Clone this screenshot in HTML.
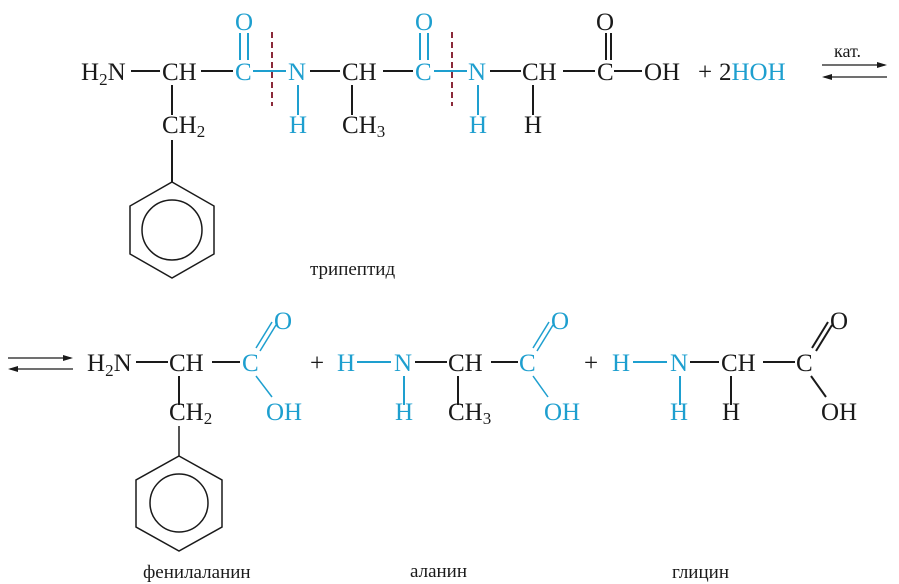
<!DOCTYPE html>
<html><head><meta charset="utf-8"><style>
html,body{margin:0;padding:0;background:#fff;}
svg{display:block;}
text{font-family:"Liberation Serif",serif;font-size:25px;fill:#1a1a1a;}
.b{fill:#1e9fcf;}
.s{font-size:17px;}
.l{font-size:19px;}
</style></head><body>
<svg width="899" height="584" viewBox="0 0 899 584" xmlns="http://www.w3.org/2000/svg">
<g stroke="#1a1a1a" stroke-width="2" fill="none">
<line x1="131" y1="71" x2="160" y2="71"/>
<line x1="201" y1="71" x2="233" y2="71"/>
<line x1="310" y1="71" x2="340" y2="71"/>
<line x1="383" y1="71" x2="413" y2="71"/>
<line x1="490" y1="71" x2="521" y2="71"/>
<line x1="563" y1="71" x2="595" y2="71"/>
<line x1="614" y1="71" x2="642" y2="71"/>
<line x1="172" y1="85" x2="172" y2="115"/>
<line x1="352" y1="85" x2="352" y2="115"/>
<line x1="533" y1="85" x2="533" y2="115"/>
<line x1="606" y1="33" x2="606" y2="60"/>
<line x1="611" y1="33" x2="611" y2="60"/>
<line x1="172" y1="140" x2="172" y2="182"/>
<polygon points="172,182 214,206 214,254 172,278 130,254 130,206" stroke-width="1.5"/>
<circle cx="172" cy="230" r="30" stroke-width="1.5"/>
<line x1="822" y1="65" x2="885" y2="65" stroke-width="1.3"/>
<line x1="824" y1="77" x2="887" y2="77" stroke-width="1.3"/>
<line x1="8" y1="358" x2="71" y2="358" stroke-width="1.3"/>
<line x1="10" y1="369" x2="73" y2="369" stroke-width="1.3"/>
<line x1="136" y1="362" x2="168" y2="362"/>
<line x1="212" y1="362" x2="240" y2="362"/>
<line x1="179" y1="376" x2="179" y2="405"/>
<line x1="179" y1="426" x2="179" y2="456" stroke-width="1.5"/>
<polygon points="179,456 222,480 222,527 179,551 136,527 136,480" stroke-width="1.5"/>
<circle cx="179" cy="503" r="29" stroke-width="1.5"/>
<line x1="415" y1="362" x2="447" y2="362"/>
<line x1="491" y1="362" x2="518" y2="362"/>
<line x1="458" y1="376" x2="458" y2="405"/>
<line x1="690" y1="362" x2="719" y2="362"/>
<line x1="763" y1="362" x2="795" y2="362"/>
<line x1="731" y1="376" x2="731" y2="405"/>
<line x1="812" y1="348" x2="828" y2="322"/>
<line x1="816" y1="351" x2="832" y2="325"/>
<line x1="811" y1="376" x2="826" y2="397"/>
</g>
<g fill="#1a1a1a">
<polygon points="887,65 877,62 877,68"/>
<polygon points="822,77 832,74 832,80"/>
<polygon points="73,358 63,355 63,361"/>
<polygon points="8,369 18,366 18,372"/>
</g>
<g stroke="#1e9fcf" stroke-width="2" fill="none">
<line x1="253" y1="71" x2="286" y2="71"/>
<line x1="434" y1="71" x2="467" y2="71"/>
<line x1="298" y1="85" x2="298" y2="115"/>
<line x1="478" y1="85" x2="478" y2="115"/>
<line x1="240" y1="33" x2="240" y2="60"/>
<line x1="248" y1="33" x2="248" y2="60"/>
<line x1="420" y1="33" x2="420" y2="60"/>
<line x1="428" y1="33" x2="428" y2="60"/>
<line x1="256" y1="348" x2="272" y2="322" stroke-width="1.5"/>
<line x1="260" y1="351" x2="276" y2="325" stroke-width="1.5"/>
<line x1="256" y1="376" x2="272" y2="397" stroke-width="1.5"/>
<line x1="533" y1="348" x2="549" y2="322" stroke-width="1.5"/>
<line x1="537" y1="351" x2="553" y2="325" stroke-width="1.5"/>
<line x1="533" y1="376" x2="548" y2="397" stroke-width="1.5"/>
<line x1="357" y1="362" x2="391" y2="362"/>
<line x1="633" y1="362" x2="667" y2="362"/>
<line x1="404" y1="376" x2="404" y2="405"/>
<line x1="680" y1="376" x2="680" y2="405"/>
</g>
<g stroke="#8b2a3a" stroke-width="2" stroke-dasharray="6,4">
<line x1="272" y1="32" x2="272" y2="106"/>
<line x1="452" y1="32" x2="452" y2="106"/>
</g>
<text x="81" y="80">H<tspan class="s" dy="5">2</tspan><tspan dy="-5">N</tspan></text>
<text x="162" y="80">CH</text>
<text x="235" y="80" class="b">C</text>
<text x="288" y="80" class="b">N</text>
<text x="342" y="80">CH</text>
<text x="415" y="80" class="b">C</text>
<text x="468" y="80" class="b">N</text>
<text x="522" y="80">CH</text>
<text x="597" y="80">C</text>
<text x="644" y="80">OH</text>
<text x="698" y="80">+</text>
<text x="719" y="80">2<tspan class="b">HOH</tspan></text>
<text x="235" y="30" class="b">O</text>
<text x="415" y="30" class="b">O</text>
<text x="596" y="30">O</text>
<text x="162" y="133">CH<tspan class="s" dy="4">2</tspan></text>
<text x="289" y="133" class="b">H</text>
<text x="342" y="133">CH<tspan class="s" dy="4">3</tspan></text>
<text x="469" y="133" class="b">H</text>
<text x="524" y="133">H</text>
<text x="834" y="57" style="font-size:18px">кат.</text>
<text x="310" y="275" class="l">трипептид</text>
<text x="87" y="371">H<tspan class="s" dy="5">2</tspan><tspan dy="-5">N</tspan></text>
<text x="169" y="371">CH</text>
<text x="242" y="371" class="b">C</text>
<text x="274" y="329" class="b">O</text>
<text x="266" y="420" class="b">OH</text>
<text x="169" y="420">CH<tspan class="s" dy="4">2</tspan></text>
<text x="310" y="371">+</text>
<text x="337" y="371" class="b">H</text>
<text x="394" y="371" class="b">N</text>
<text x="448" y="371">CH</text>
<text x="519" y="371" class="b">C</text>
<text x="551" y="329" class="b">O</text>
<text x="544" y="420" class="b">OH</text>
<text x="395" y="420" class="b">H</text>
<text x="448" y="420">CH<tspan class="s" dy="4">3</tspan></text>
<text x="584" y="371">+</text>
<text x="612" y="371" class="b">H</text>
<text x="670" y="371" class="b">N</text>
<text x="721" y="371">CH</text>
<text x="796" y="371">C</text>
<text x="830" y="329">O</text>
<text x="821" y="420">OH</text>
<text x="670" y="420" class="b">H</text>
<text x="722" y="420">H</text>
<text x="143" y="578" class="l">фенилаланин</text>
<text x="410" y="577" class="l">аланин</text>
<text x="672" y="578" class="l">глицин</text>
</svg>
</body></html>
